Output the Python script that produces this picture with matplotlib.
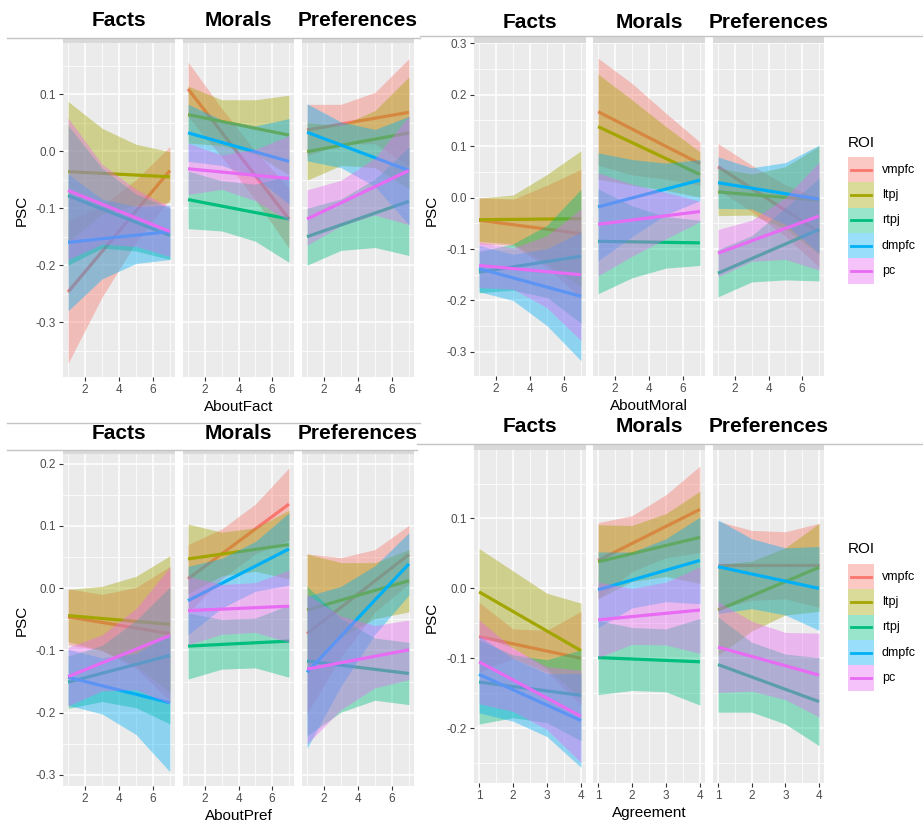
import matplotlib
matplotlib.use('Agg')
import matplotlib.pyplot as plt
from matplotlib.patches import Rectangle
from matplotlib.lines import Line2D

plt.rcParams['font.family'] = ['Liberation Sans', 'DejaVu Sans']

# ---------------- data ----------------
ROIS = ['vmpfc', 'ltpj', 'rtpj', 'dmpfc', 'pc']
COLORS = ['#F8766D', '#A3A500', '#00BF7D', '#00B0F6', '#E76BF3']
FACETS = ['Facts', 'Morals', 'Preferences']

X_ABOUT = [1, 3, 5, 7]
X_AGREE = [1, 2, 3, 4]
XTICKS_ABOUT = [2, 4, 6]
XTICKS_AGREE = [1, 2, 3, 4]

# ---- AboutFact panel (top-left): [facet][roi] ----
AF_LINE = [
    [[-0.247, -0.034], [-0.036, -0.045], [-0.078, -0.148], [-0.160, -0.141], [-0.069, -0.141]],
    [[0.109, -0.119], [0.064, 0.028], [-0.085, -0.119], [0.032, -0.018], [-0.031, -0.048]],
    [[0.037, 0.068], [-0.001, 0.032], [-0.150, -0.088], [0.033, -0.034], [-0.119, -0.034]],
]
AF_LO = [
    [[-0.372, -0.256, -0.160, -0.084], [-0.160, -0.110, -0.095, -0.090], [-0.200, -0.170, -0.175, -0.190],
     [-0.280, -0.224, -0.197, -0.190], [-0.190, -0.163, -0.167, -0.185]],
    [[0.060, -0.010, -0.085, -0.170], [0.014, 0.010, -0.005, -0.042], [-0.136, -0.140, -0.158, -0.195],
     [-0.018, -0.025, -0.046, -0.093], [-0.076, -0.067, -0.087, -0.123]],
    [[-0.008, 0.012, 0.013, -0.026], [-0.051, -0.025, -0.029, -0.066], [-0.200, -0.174, -0.169, -0.183],
     [-0.017, -0.029, -0.062, -0.129], [-0.165, -0.131, -0.112, -0.129]],
]
AF_HI = [
    [[-0.122, -0.096, -0.050, 0.008], [0.087, 0.040, 0.012, -0.001], [0.045, -0.030, -0.075, -0.100],
     [-0.040, -0.084, -0.097, -0.095], [0.058, -0.023, -0.067, -0.098]],
    [[0.156, 0.075, 0.000, -0.065], [0.114, 0.090, 0.090, 0.098], [-0.035, -0.052, -0.058, -0.043],
     [0.082, 0.055, 0.044, 0.057], [0.014, -0.007, 0.003, 0.027]],
    [[0.082, 0.082, 0.103, 0.162], [0.050, 0.045, 0.071, 0.130], [-0.100, -0.084, -0.049, 0.007],
     [0.083, 0.051, 0.038, 0.061], [-0.068, -0.051, -0.012, 0.061]],
]

# ---- AboutMoral panel (top-right) ----
AM_LINE = [
    [[-0.044, -0.070], [-0.043, -0.041], [-0.145, -0.114], [-0.138, -0.192], [-0.132, -0.150]],
    [[0.167, 0.066], [0.138, 0.045], [-0.085, -0.088], [-0.018, 0.034], [-0.052, -0.027]],
    [[0.060, -0.067], [0.011, -0.005], [-0.147, -0.062], [0.029, -0.003], [-0.108, -0.036]],
]
AM_LO = [
    [[-0.090, -0.093, -0.136, -0.195], [-0.085, -0.090, -0.130, -0.173], [-0.185, -0.180, -0.194, -0.244],
     [-0.183, -0.200, -0.249, -0.317], [-0.175, -0.178, -0.214, -0.278]],
    [[0.063, 0.044, 0.036, 0.024], [0.036, 0.024, 0.014, 0.001], [-0.187, -0.156, -0.137, -0.132],
     [-0.123, -0.076, -0.033, -0.006], [-0.152, -0.114, -0.080, -0.047]],
    [[0.015, -0.027, -0.075, -0.135], [-0.035, -0.034, -0.060, -0.110], [-0.193, -0.164, -0.160, -0.162],
     [-0.021, -0.022, -0.052, -0.108], [-0.154, -0.124, -0.120, -0.141]],
]
AM_HI = [
    [[0.000, -0.003, 0.024, 0.055], [-0.001, 0.005, 0.045, 0.091], [-0.105, -0.090, -0.054, 0.016],
     [-0.093, -0.110, -0.099, -0.067], [-0.087, -0.098, -0.074, -0.022]],
    [[0.271, 0.222, 0.164, 0.108], [0.240, 0.190, 0.138, 0.089], [0.017, -0.016, -0.037, -0.044],
     [0.087, 0.074, 0.067, 0.074], [0.048, 0.026, 0.010, -0.007]],
    [[0.105, 0.063, 0.025, 0.000], [0.057, 0.046, 0.060, 0.100], [-0.101, -0.074, -0.020, 0.038],
     [0.079, 0.058, 0.068, 0.102], [-0.062, -0.044, 0.000, 0.069]],
]

# ---- AboutPref panel (bottom-left) ----
AP_LINE = [
    [[-0.046, -0.073], [-0.044, -0.058], [-0.151, -0.108], [-0.143, -0.184], [-0.142, -0.076]],
    [[0.015, 0.135], [0.047, 0.070], [-0.093, -0.085], [-0.020, 0.063], [-0.036, -0.029]],
    [[-0.073, 0.054], [-0.035, 0.012], [-0.117, -0.137], [-0.135, 0.039], [-0.130, -0.099]],
]
AP_LO = [
    [[-0.091, -0.100, -0.129, -0.181], [-0.086, -0.100, -0.125, -0.168], [-0.193, -0.182, -0.192, -0.218],
     [-0.188, -0.202, -0.235, -0.295], [-0.189, -0.165, -0.163, -0.186]],
    [[-0.040, 0.015, 0.055, 0.077], [-0.009, 0.020, 0.027, 0.015], [-0.146, -0.130, -0.128, -0.143],
     [-0.075, -0.032, -0.005, 0.005], [-0.091, -0.074, -0.071, -0.087]],
    [[-0.201, -0.111, -0.038, 0.007], [-0.125, -0.079, -0.049, -0.038], [-0.237, -0.199, -0.180, -0.187],
     [-0.257, -0.157, -0.074, -0.011], [-0.250, -0.195, -0.160, -0.147]],
]
AP_HI = [
    [[-0.001, -0.010, 0.001, 0.035], [-0.002, 0.003, 0.019, 0.052], [-0.109, -0.092, -0.052, 0.002],
     [-0.098, -0.112, -0.105, -0.073], [-0.095, -0.075, -0.033, 0.034]],
    [[0.070, 0.095, 0.135, 0.193], [0.103, 0.090, 0.097, 0.125], [-0.040, -0.050, -0.048, -0.027],
     [0.035, 0.048, 0.075, 0.121], [0.019, 0.006, 0.009, 0.029]],
    [[0.055, 0.049, 0.062, 0.101], [0.055, 0.041, 0.041, 0.062], [0.003, -0.049, -0.080, -0.087],
     [-0.013, 0.003, 0.036, 0.089], [-0.010, -0.045, -0.060, -0.051]],
]

# ---- Agreement panel (bottom-right) ----
AG_LINE = [
    [[-0.069, -0.100], [-0.005, -0.089], [-0.134, -0.153], [-0.123, -0.189], [-0.105, -0.183]],
    [[0.040, 0.113], [0.038, 0.073], [-0.099, -0.105], [-0.002, 0.040], [-0.045, -0.031]],
    [[0.033, 0.033], [-0.031, 0.030], [-0.109, -0.162], [0.031, 0.000], [-0.084, -0.124]],
]
AG_LO = [
    [[-0.120, -0.100, -0.120, -0.167], [-0.067, -0.085, -0.115, -0.157], [-0.194, -0.185, -0.192, -0.218],
     [-0.178, -0.190, -0.212, -0.256], [-0.165, -0.176, -0.202, -0.249]],
    [[-0.014, 0.024, 0.044, 0.051], [-0.015, 0.010, 0.017, 0.007], [-0.152, -0.146, -0.148, -0.167],
     [-0.056, -0.028, -0.019, -0.022], [-0.099, -0.080, -0.081, -0.093]],
    [[-0.030, -0.017, -0.015, -0.027], [-0.096, -0.061, -0.038, -0.033], [-0.177, -0.177, -0.194, -0.225],
     [-0.036, -0.029, -0.038, -0.060], [-0.149, -0.147, -0.159, -0.184]],
]
AG_HI = [
    [[-0.020, -0.058, -0.060, -0.033], [0.057, 0.025, -0.007, -0.021], [-0.074, -0.095, -0.102, -0.088],
     [-0.068, -0.100, -0.122, -0.122], [-0.045, -0.086, -0.112, -0.117]],
    [[0.094, 0.104, 0.134, 0.175], [0.091, 0.090, 0.107, 0.139], [-0.046, -0.056, -0.058, -0.043],
     [0.052, 0.052, 0.071, 0.102], [0.009, 0.000, 0.009, 0.031]],
    [[0.096, 0.083, 0.081, 0.093], [0.034, 0.039, 0.058, 0.093], [-0.041, -0.077, -0.094, -0.099],
     [0.098, 0.071, 0.058, 0.060], [-0.019, -0.047, -0.063, -0.064]],
]

# ---------------- layout helpers ----------------
W, H = 923, 825
fig = plt.figure(figsize=(W / 100, H / 100), dpi=100)
fig.patch.set_facecolor('white')


def fbox(x0, y0, x1, y1):
    return [x0 / W, 1 - y1 / H, (x1 - x0) / W, (y1 - y0) / H]


def ftext(x, y, s, **kw):
    fig.text(x / W, 1 - y / H, s, **kw)


def hline(x0, x1, y, color='#C4C4C4', lw=1.0):
    fig.add_artist(Line2D([x0 / W, x1 / W], [1 - y / H, 1 - y / H], color=color, lw=lw,
                          transform=fig.transFigure))


def draw_panel(xs, facet_x, strip_y, panel_y, ylim, yticks, xlim, xticks, xminor,
               lines, los, his, titles_y, xlabel, xlabel_pos, ylabel_pos):
    ymin, ymax = ylim
    step = yticks[1] - yticks[0]
    yminor = [t + step / 2 for t in yticks] + [yticks[0] - step / 2]
    for f, (fx0, fx1) in enumerate(facet_x):
        ax = fig.add_axes(fbox(fx0, panel_y[0], fx1, panel_y[1]))
        ax.set_facecolor('#EBEBEB')
        for sp in ax.spines.values():
            sp.set_visible(False)
        ax.set_xlim(*xlim)
        ax.set_ylim(ymin, ymax)
        ax.set_xticks(xticks)
        ax.set_xticks(xminor, minor=True)
        ax.set_yticks(yticks)
        ax.set_yticks([m for m in yminor if ymin < m < ymax], minor=True)
        ax.set_yticklabels([f"{t:.1f}" for t in yticks])
        ax.grid(which='major', color='white', lw=1.1)
        ax.grid(which='minor', color='white', lw=0.55)
        ax.set_axisbelow(True)
        ax.tick_params(which='major', length=3, width=0.8, color='#333333',
                       labelcolor='#4D4D4D', labelsize=8.5, pad=2)
        ax.tick_params(which='minor', length=0)
        if f > 0:
            ax.tick_params(axis='y', left=False, labelleft=False)
        z = 2
        for r in range(len(ROIS)):
            ax.fill_between(xs, los[f][r], his[f][r], color=COLORS[r], alpha=0.4,
                            lw=0, zorder=z)
            ax.plot([xs[0], xs[-1]], lines[f][r], color=COLORS[r], lw=2.3,
                    solid_capstyle='butt', zorder=z + 1)
            z += 2
        # strip remnant
        fig.add_artist(Rectangle((fx0 / W, 1 - strip_y[1] / H),
                                 (fx1 - fx0) / W, (strip_y[1] - strip_y[0]) / H,
                                 transform=fig.transFigure, facecolor='#D9D9D9',
                                 edgecolor='none'))
        ftext((fx0 + fx1) / 2, titles_y, FACETS[f], ha='center', va='center',
              fontsize=15, fontweight='bold', color='black')
    ftext(xlabel_pos[0], xlabel_pos[1], xlabel, ha='center', va='center', fontsize=11)
    ftext(ylabel_pos[0], ylabel_pos[1], 'PSC', ha='center', va='center', fontsize=11,
          rotation=90)


def draw_legend(x0, title_y, key_top):
    ftext(x0, title_y, 'ROI', ha='left', va='center', fontsize=11)
    kw, kh = 26, 25.3
    for r, name in enumerate(ROIS):
        y0 = key_top + r * kh
        fig.add_artist(Rectangle((x0 / W, 1 - (y0 + kh) / H), kw / W, kh / H,
                                 transform=fig.transFigure, facecolor=COLORS[r],
                                 alpha=0.4, edgecolor='none'))
        yc = 1 - (y0 + kh / 2) / H
        fig.add_artist(Line2D([(x0 + 3) / W, (x0 + kw - 3) / W], [yc, yc],
                              color=COLORS[r], lw=2.0, transform=fig.transFigure))
        ftext(x0 + kw + 8, y0 + kh / 2, name, ha='left', va='center', fontsize=9,
              color='black')


LEFT_FACETS = [(63, 175), (183, 294), (302, 414)]
RIGHT_FACETS = [(474, 586), (593, 705), (713, 824)]
ABOUT_MINOR = [1, 3, 5, 7]
AGREE_MINOR = [1.5, 2.5, 3.5]

# screenshot border lines
hline(7, 420, 38)
hline(420, 923, 36)
hline(7, 420, 423)
hline(7, 417, 450)
hline(417, 923, 444)

draw_panel(X_ABOUT, LEFT_FACETS, (38, 43), (43, 377), (-0.396, 0.1895),
           [-0.3, -0.2, -0.1, 0.0, 0.1], (0.7, 7.3), XTICKS_ABOUT, ABOUT_MINOR,
           AF_LINE, AF_LO, AF_HI, 21, 'AboutFact', (239, 407), (22, 210))

draw_panel(X_ABOUT, RIGHT_FACETS, (37, 42.7), (42.7, 375.7), (-0.3463, 0.3012),
           [-0.3, -0.2, -0.1, 0.0, 0.1, 0.2, 0.3], (0.7, 7.3), XTICKS_ABOUT, ABOUT_MINOR,
           AM_LINE, AM_LO, AM_HI, 23, 'AboutMoral', (649, 406), (432, 210))

draw_panel(X_ABOUT, LEFT_FACETS, (450, 454), (454, 786), (-0.3177, 0.2155),
           [-0.3, -0.2, -0.1, 0.0, 0.1, 0.2], (0.7, 7.3), XTICKS_ABOUT, ABOUT_MINOR,
           AP_LINE, AP_LO, AP_HI, 434, 'AboutPref', (239, 816), (22, 620))

draw_panel(X_AGREE, RIGHT_FACETS, (445, 450), (450, 782.7), (-0.278, 0.198),
           [-0.2, -0.1, 0.0, 0.1], (0.85, 4.15), XTICKS_AGREE, AGREE_MINOR,
           AG_LINE, AG_LO, AG_HI, 427, 'Agreement', (649, 813), (432, 617))

draw_legend(848, 143, 157)
draw_legend(848, 549, 564)

fig.savefig('out.png', dpi=100)
